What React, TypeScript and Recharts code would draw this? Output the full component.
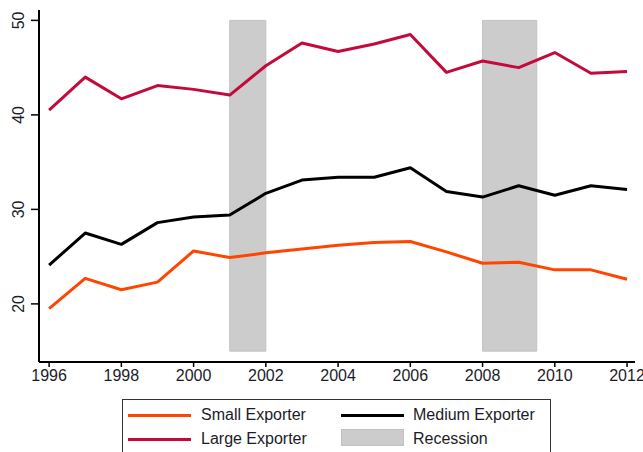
import React from "react";
import { LineChart, Line, XAxis, YAxis, ReferenceArea } from "recharts";

const years = [1996, 1997, 1998, 1999, 2000, 2001, 2002, 2003, 2004, 2005, 2006, 2007, 2008, 2009, 2010, 2011, 2012];
const smallExporter = [19.5, 22.7, 21.5, 22.3, 25.6, 24.9, 25.4, 25.8, 26.2, 26.5, 26.6, 25.5, 24.3, 24.4, 23.6, 23.6, 22.6];
const mediumExporter = [24.1, 27.5, 26.3, 28.6, 29.2, 29.4, 31.7, 33.1, 33.4, 33.4, 34.4, 31.9, 31.3, 32.5, 31.5, 32.5, 32.1];
const largeExporter = [40.5, 44.0, 41.7, 43.1, 42.7, 42.1, 45.2, 47.6, 46.7, 47.5, 48.5, 44.5, 45.7, 45.0, 46.6, 44.4, 44.6];
const recessions = [
  { start: 2001, end: 2002 },
  { start: 2008, end: 2009.5 },
];
const xTicks = [1996, 1998, 2000, 2002, 2004, 2006, 2008, 2010, 2012];
const yTicks = [20, 30, 40, 50];

const data = years.map((y, i) => ({
  year: y,
  small: smallExporter[i],
  medium: mediumExporter[i],
  large: largeExporter[i],
}));

const FONT = "'Liberation Sans', Arial, sans-serif";
const TEXT = "#1c1c28";
const RED = "#c40a3c";
const ORANGE = "#ff4500";

const XTick = (props: any) => {
  const { x, y, payload } = props;
  return (
    <text x={x} y={y + 14} textAnchor="middle" fontFamily={FONT} fontSize={16} fill={TEXT}>
      {payload.value}
    </text>
  );
};

const YTick = (props: any) => {
  const { x, y, payload } = props;
  const bx = x - 7;
  return (
    <text
      x={bx}
      y={y}
      textAnchor="middle"
      transform={`rotate(-90, ${bx}, ${y})`}
      fontFamily={FONT}
      fontSize={16}
      fill={TEXT}
    >
      {payload.value}
    </text>
  );
};

const legendText: React.CSSProperties = {
  position: "absolute",
  fontFamily: FONT,
  fontSize: 16,
  color: TEXT,
  lineHeight: "18px",
  whiteSpace: "nowrap",
};

export default function App() {
  return (
    <div style={{ position: "relative", width: 643, height: 452, overflow: "hidden", background: "#fff" }}>
      <style>{`body{margin:0;}`}</style>
      <LineChart width={643} height={452} data={data} margin={{ top: 10, right: 8, left: 0, bottom: 60 }}>
        <XAxis
          dataKey="year"
          type="number"
          domain={[1995.72, 2012.22]}
          ticks={xTicks}
          allowDataOverflow
          height={30}
          tickSize={5}
          tickMargin={0}
          tick={<XTick />}
          axisLine={{ stroke: "#000", strokeWidth: 2 }}
          tickLine={{ stroke: "#000", strokeWidth: 1.5 }}
        />
        <XAxis xAxisId="top" orientation="top" dataKey="year" type="number" domain={[1995.72, 2012.22]} height={0} tick={false} tickLine={false} axisLine={{ stroke: "#555", strokeWidth: 1.2 }} />
        <YAxis
          type="number"
          domain={[13.85, 51.1]}
          ticks={yTicks}
          allowDataOverflow
          width={39}
          tickSize={8}
          tickMargin={0}
          tick={<YTick />}
          axisLine={{ stroke: "#000", strokeWidth: 2 }}
          tickLine={{ stroke: "#000", strokeWidth: 1.5 }}
        />
        <YAxis yAxisId="right" orientation="right" type="number" domain={[13.85, 51.1]} width={0} tick={false} tickLine={false} axisLine={{ stroke: "#555", strokeWidth: 1.2 }} />
        {recessions.map((r, i) => (
          <ReferenceArea
            key={i}
            x1={r.start}
            x2={r.end}
            y1={15}
            y2={50}
            fill="#cccccc"
            fillOpacity={1}
            stroke="#c2c2c2"
            strokeWidth={1}
          />
        ))}
        <Line dataKey="small" stroke={ORANGE} strokeWidth={3} dot={false} isAnimationActive={false} strokeLinejoin="round" />
        <Line dataKey="medium" stroke="#000" strokeWidth={3} dot={false} isAnimationActive={false} strokeLinejoin="round" />
        <Line dataKey="large" stroke={RED} strokeWidth={3} dot={false} isAnimationActive={false} strokeLinejoin="round" />
      </LineChart>
      <div
        style={{
          position: "absolute",
          left: 122,
          top: 399,
          width: 429,
          height: 70,
          border: "1.5px solid #333",
          boxSizing: "border-box",
          background: "#fff",
        }}
      >
        <div style={{ position: "absolute", left: 5, top: 13.5, width: 63, height: 3, background: ORANGE }} />
        <div style={{ ...legendText, left: 78, top: 6 }}>Small Exporter</div>
        <div style={{ position: "absolute", left: 5, top: 37.5, width: 63, height: 3, background: RED }} />
        <div style={{ ...legendText, left: 78, top: 30 }}>Large Exporter</div>
        <div style={{ position: "absolute", left: 218, top: 13.5, width: 63, height: 3, background: "#000" }} />
        <div style={{ ...legendText, left: 290, top: 6 }}>Medium Exporter</div>
        <div style={{ position: "absolute", left: 218, top: 29, width: 63, height: 17, background: "#cccccc", border: "1px solid #c2c2c2", boxSizing: "border-box" }} />
        <div style={{ ...legendText, left: 290, top: 30 }}>Recession</div>
      </div>
    </div>
  );
}
